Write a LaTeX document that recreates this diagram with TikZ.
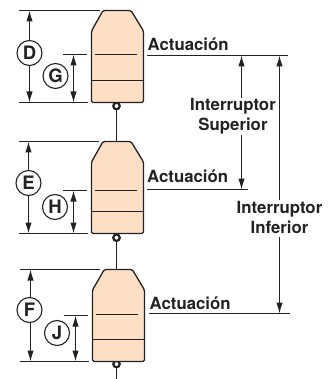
\documentclass[tikz,border=0pt]{standalone}
\usepackage{fontspec}
\setmainfont{TeX Gyre Heros}
\usetikzlibrary{arrows.meta}
\definecolor{bodyfill}{HTML}{FDDFC6}
\definecolor{ink}{HTML}{222222}
\tikzset{
  ext/.style={draw=ink,line width=1.2pt},
  seam/.style={draw=ink,line width=1.5pt},
  dimline/.style={draw=ink,line width=1.1pt,{Latex[length=11pt,width=6.5pt]}-{Latex[length=11pt,width=6.5pt]}},
  badge/.style={circle,draw=ink,line width=1.1pt,fill=white,minimum size=25pt,inner sep=0pt,font=\fontsize{18.5}{20}\selectfont\bfseries,text=ink},
  lab/.style={font=\fontsize{16.8}{20}\selectfont\bfseries,text=ink,inner sep=0pt,anchor=base west},
  mid/.style={font=\fontsize{16.8}{20}\selectfont\bfseries,text=ink,align=center,fill=white,inner xsep=0pt,inner ysep=0.5pt},
  bodyshape/.style={draw=ink,line width=1.3pt,fill=bodyfill,rounded corners=1.5pt},
  pin/.style={circle,draw=ink,line width=2.2pt,fill=white,minimum size=6.5pt,inner sep=0pt},
  stem/.style={draw=ink,line width=1.1pt}
}
\begin{document}
\begin{tikzpicture}[x=1pt,y=-1pt]
\useasboundingbox (0,0) rectangle (328,379);
% pins and stems
\node[pin] (p1) at (116.5,106) {};
\node[pin] (p2) at (116.5,237.7) {};
\node[pin] (p3) at (116.5,364) {};
\coordinate (end) at (116.5,379);
\coordinate (t2) at (116.5,142);
\coordinate (t3) at (116.5,270);
\draw[stem] (p1) -- (t2);
\draw[stem] (p2) -- (t3);
\draw[stem] (p3) -- (end);
% bodies
\draw[bodyshape] (103,10.5) -- (131,10.5) -- (143.5,31) -- (143.5,102.5) -- (91.5,102.5) -- (91.5,31) -- cycle;
\draw[seam] (91.5,80.5) -- (143.5,80.5);
\draw[ext] (95,54.5) -- (137,54.5);
\draw[bodyshape] (103,141.5) -- (131,141.5) -- (143.5,162) -- (143.5,233.5) -- (91.5,233.5) -- (91.5,162) -- cycle;
\draw[seam] (91.5,211.5) -- (143.5,211.5);
\draw[ext] (95,190.5) -- (137,190.5);
\draw[bodyshape] (104.3,269.5) -- (132.3,269.5) -- (144.5,290) -- (144.5,361.5) -- (92.5,361.5) -- (92.5,290) -- cycle;
\draw[seam] (92.5,339.5) -- (144.5,339.5);
\draw[ext] (96.3,314.5) -- (138.3,314.5);
% extension lines, body 1
\coordinate (d1a) at (19,10.5);   \coordinate (d1b) at (100,10.5);
\coordinate (d1c) at (19,102.5);  \coordinate (d1d) at (88,102.5);
\coordinate (g1a) at (63,54.5);   \coordinate (g1b) at (87,54.5);
\draw[ext] (d1a) -- (d1b);
\draw[ext] (d1c) -- (d1d);
\draw[ext] (g1a) -- (g1b);
% extension lines, body 2
\coordinate (d2a) at (19,141.5);  \coordinate (d2b) at (99,141.5);
\coordinate (d2c) at (19,233.5);  \coordinate (d2d) at (88,233.5);
\coordinate (g2a) at (63,190.5);  \coordinate (g2b) at (87,190.5);
\draw[ext] (d2a) -- (d2b);
\draw[ext] (d2c) -- (d2d);
\draw[ext] (g2a) -- (g2b);
% extension lines, body 3
\coordinate (d3a) at (20,269.5);  \coordinate (d3b) at (100,269.5);
\coordinate (d3c) at (20,361.5);  \coordinate (d3d) at (89,361.5);
\coordinate (g3a) at (64,315.5);  \coordinate (g3b) at (88,315.5);
\draw[ext] (d3a) -- (d3b);
\draw[ext] (d3c) -- (d3d);
\draw[ext] (g3a) -- (g3b);
% dimension arrows
\coordinate (D1) at (29.5,10.5);    \coordinate (D2) at (29.5,102.5);
\coordinate (G1) at (73.5,54.5);  \coordinate (G2) at (73.5,102.5);
\coordinate (E1) at (28.5,141.5); \coordinate (E2) at (28.5,233.5);
\coordinate (H1) at (73.5,190.5);   \coordinate (H2) at (73.5,233.5);
\coordinate (F1) at (30.5,269.5); \coordinate (F2) at (30.5,361.5);
\coordinate (J1) at (75.5,315.5);   \coordinate (J2) at (75.5,361.5);
\draw[dimline] (D1) -- (D2);
\draw[dimline] (G1) -- (G2);
\draw[dimline] (E1) -- (E2);
\draw[dimline] (H1) -- (H2);
\draw[dimline] (F1) -- (F2);
\draw[dimline] (J1) -- (J2);
\node[badge] (D) at (29.5,53) {D};
\node[badge] (G) at (55.5,76) {G};
\node[badge] (E) at (28.5,183) {E};
\node[badge] (H) at (55,207) {H};
\node[badge] (F) at (29.5,310) {F};
\node[badge] (J) at (57,333) {J};
% actuation labels and lines
\node[lab] (a1) at (147.5,51) {Actuación};
\node[lab] (a2) at (147,182.7) {Actuación};
\node[lab] (a3) at (149.5,309.3) {Actuación};
\coordinate (l1a) at (147,55.5);  \coordinate (l1b) at (288,55.5);
\coordinate (l2a) at (147,189.5); \coordinate (l2b) at (248,189.5);
\coordinate (l3a) at (149,313.5); \coordinate (l3b) at (290,313.5);
\draw[ext] (l1a) -- (l1b);
\draw[ext] (l2a) -- (l2b);
\draw[ext] (l3a) -- (l3b);
% switch ranges
\coordinate (s1) at (241.5,55.5);  \coordinate (s2) at (241.5,189.5);
\coordinate (i1) at (279.5,55.5);  \coordinate (i2) at (279.5,313.5);
\draw[dimline] (s1) -- (s2);
\draw[dimline] (i1) -- (i2);
\node[mid] (sup) at (233,116.6) {Interruptor\\Superior};
\node[mid] (inf) at (279.5,218.9) {Interruptor\\Inferior\vphantom{p}};
\end{tikzpicture}
\end{document}
